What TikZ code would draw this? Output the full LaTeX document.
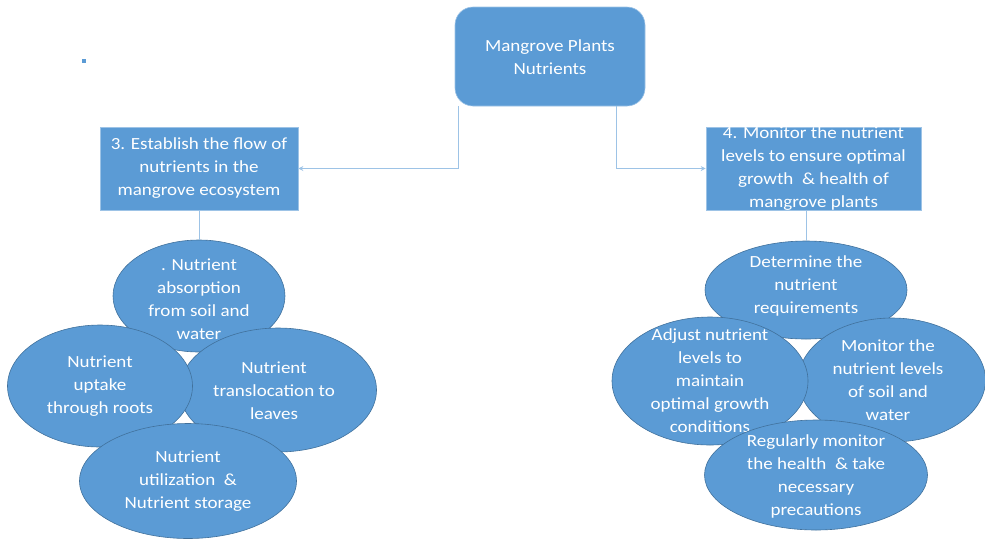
\documentclass[tikz,border=0pt]{standalone}
\usepackage{fontspec}
\setmainfont{Carlito}[FakeStretch=1.12]
\usepackage{xcolor}
\usetikzlibrary{positioning, arrows.meta, shapes.geometric}
\definecolor{smartblue}{HTML}{5B9BD5}
\definecolor{smartedge}{HTML}{41719C}
\definecolor{linkblue}{HTML}{9DC3E6}

\begin{document}
\begin{tikzpicture}[x=1pt, y=-1pt,
    stepbox/.style={fill=smartblue, draw=linkblue, line width=0.6pt, inner sep=0pt},
    blob/.style={ellipse, fill=smartblue, draw=smartedge, line width=0.6pt, inner sep=0pt},
    words/.style={text=white, align=center, inner sep=0pt, font=\fontsize{17}{23}\selectfont},
    link/.style={draw=linkblue, line width=0.9pt},
    flow/.style={link, -{Stealth[length=5pt, width=5pt]}}]
  \useasboundingbox (0,0) rectangle (985,539);
  \fill[smartblue] (82,59) rectangle (86,63);

  % top and the two steps
  \node[stepbox, rounded corners=18pt, minimum width=190pt, minimum height=99pt] (root) at (550,56.5) {};
  \node[words] (roottext) at ([yshift=-1pt]root) {Mangrove Plants\\Nutrients};
  \node[stepbox, minimum width=198pt, minimum height=83pt] (estab) at (199,168.5) {};
  \node[words] (estabtext) at (estab) {3. Establish the flow of\\nutrients in the\\mangrove ecosystem};
  \node[stepbox, minimum width=215pt, minimum height=83pt] (monitor) at (813.5,168.5) {};
  \node[words] (monitortext) at (monitor) {4. Monitor the nutrient\\levels to ensure optimal\\growth \ \& health of\\mangrove plants};

  \draw[flow] ([xshift=4pt]root.south west) |- (estab.east);
  \draw[flow] ([xshift=-29pt]root.south east) |- (monitor.west);

  % left cluster
  \node[blob, minimum width=172pt, minimum height=112pt] (absorb) at (199,296) {};
  \node[words] (absorbtext) at ([yshift=-3pt]absorb) {. Nutrient\\absorption\\from soil and\\water};
  \node[blob, minimum width=197pt, minimum height=124pt] (transloc) at (278,390) {};
  \node[words] (transloctext) at ([xshift=-4pt, yshift=-1pt]transloc) {Nutrient\\translocation to\\leaves};
  \node[blob, minimum width=185pt, minimum height=122pt] (uptake) at (100,386) {};
  \node[words] (uptaketext) at ([yshift=0pt]uptake) {Nutrient\\uptake\\through roots};
  \node[blob, minimum width=217pt, minimum height=115pt] (utilize) at (188,481) {};
  \node[words] (utilizetext) at (utilize) {Nutrient\\utilization \ \&\\Nutrient storage};

  \draw[link] (estab.south) -- (absorb.north);

  % right cluster
  \node[blob, minimum width=202pt, minimum height=98pt] (determine) at (806,290) {};
  \node[words] (determinetext) at ([yshift=4pt]determine) {Determine the\\nutrient\\requirements};
  \node[blob, minimum width=187pt, minimum height=124pt] (soilcheck) at (892,380) {};
  \node[words] (soilchecktext) at ([xshift=-4pt]soilcheck) {Monitor the\\nutrient levels\\of soil and\\water};
  \node[blob, minimum width=196pt, minimum height=128pt] (adjust) at (710,381) {};
  \node[words] (adjusttext) at (adjust) {Adjust nutrient\\levels to\\maintain\\optimal growth\\conditions};
  \node[blob, minimum width=223pt, minimum height=110pt] (regular) at (816,475) {};
  \node[words] (regulartext) at ([yshift=-1.5pt]regular) {Regularly monitor\\the health \ \& take\\necessary\\precautions};

  \draw[link] (determine.north |- monitor.south) -- (determine.north);
\end{tikzpicture}
\end{document}
